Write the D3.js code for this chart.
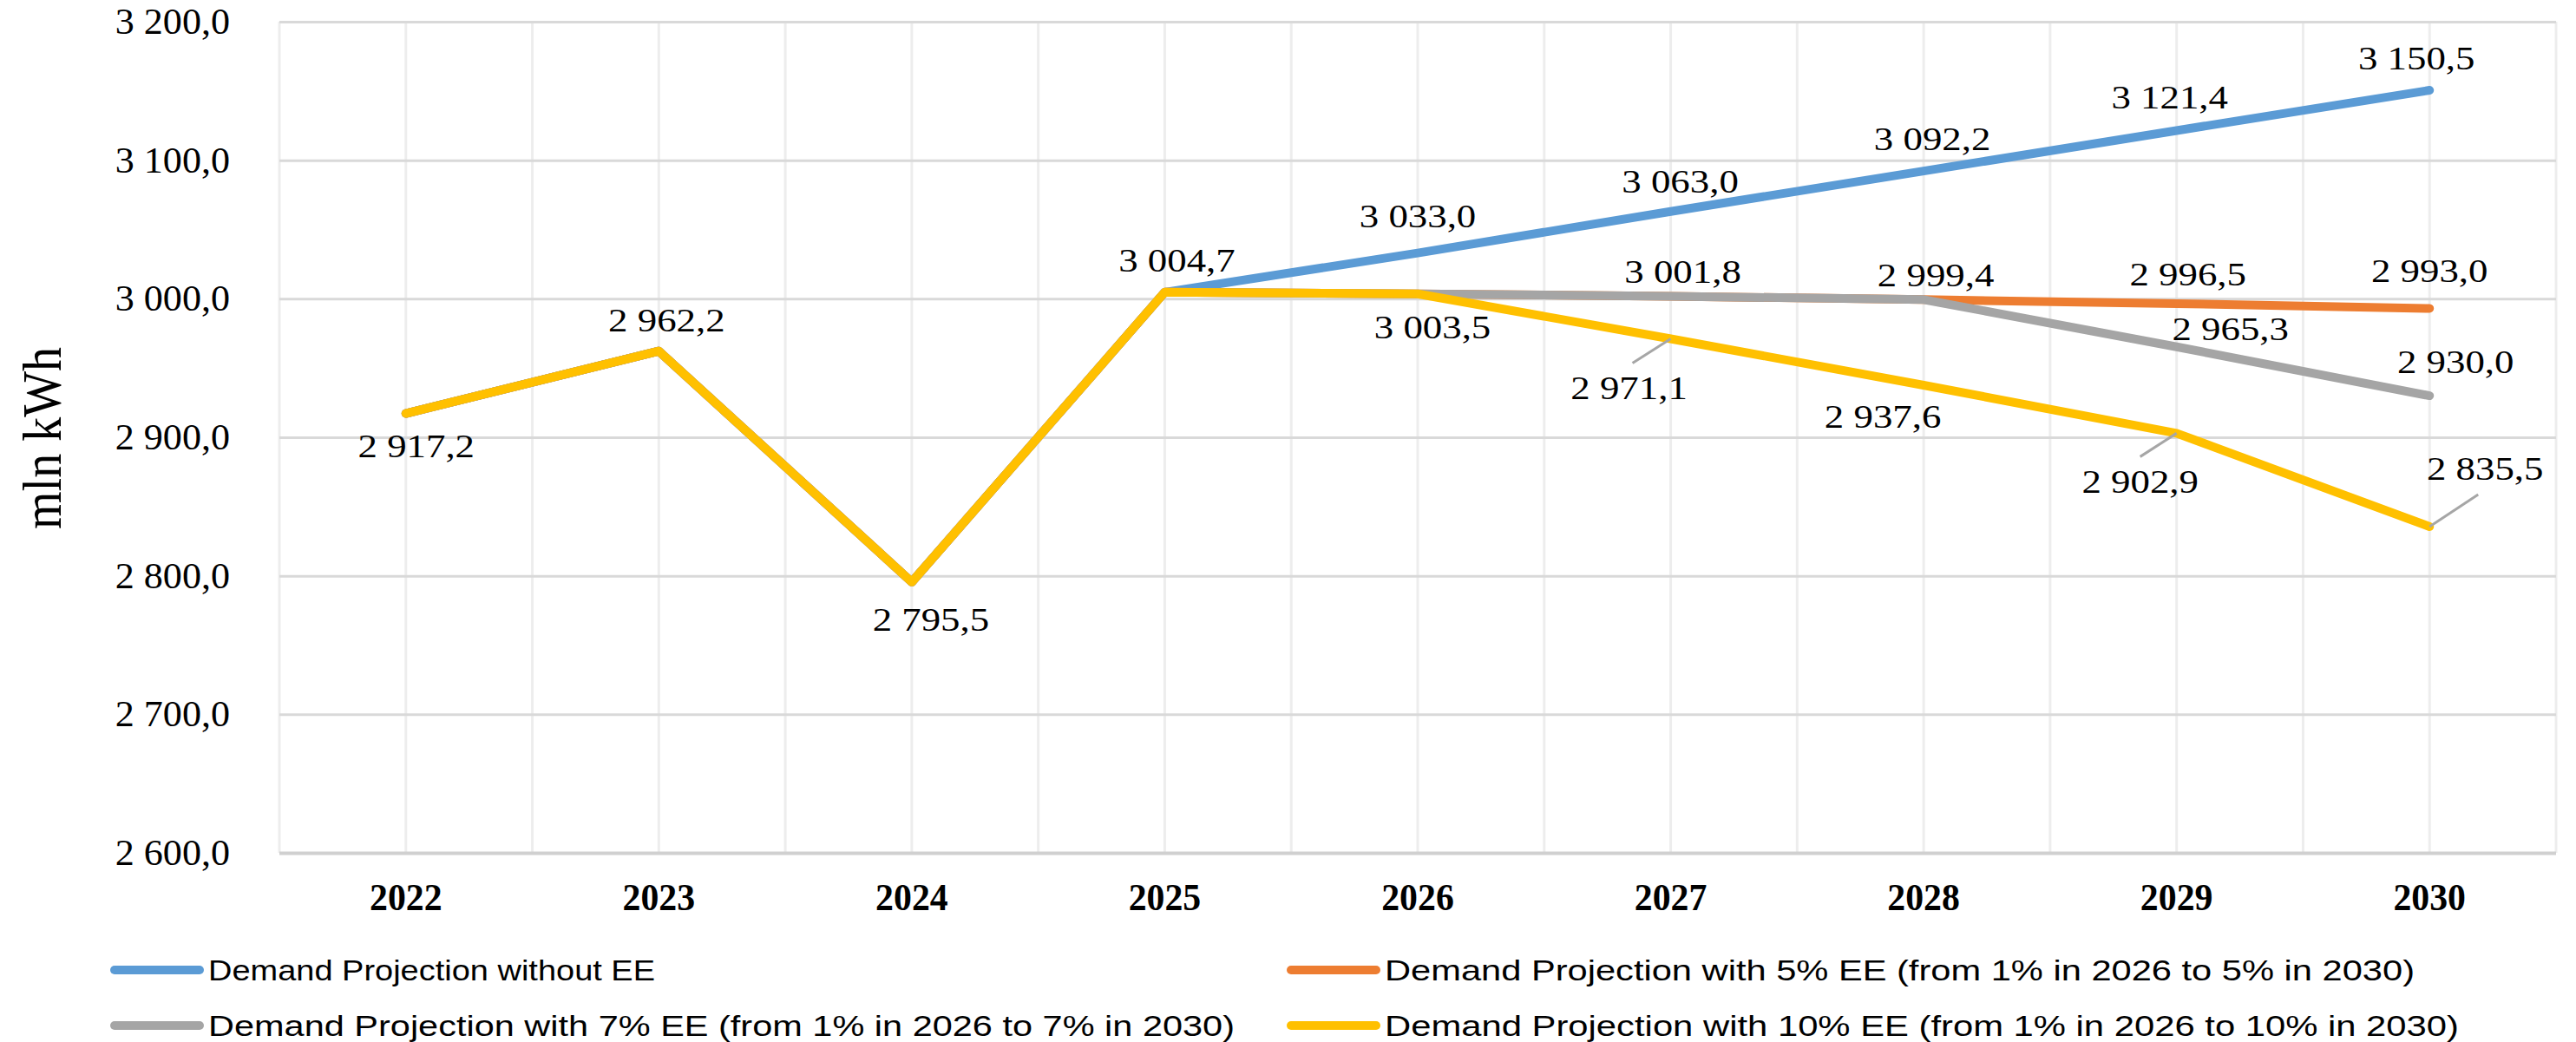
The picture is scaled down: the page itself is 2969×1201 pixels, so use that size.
<!DOCTYPE html>
<html>
<head>
<meta charset="utf-8">
<script src="https://cdn.jsdelivr.net/npm/d3@7"></script>
<style>
  html, body { margin: 0; padding: 0; background: #ffffff; }
  svg { display: block; }
</style>
</head>
<body>
<svg id="chart" width="2969" height="1201"></svg>
<script>
// ---------------- DATA ----------------
const categories = ["2022", "2023", "2024", "2025", "2026", "2027", "2028", "2029", "2030"];
const withoutEE = [2917.2, 2962.2, 2795.5, 3004.7, 3033.0, 3063.0, 3092.2, 3121.4, 3150.5];
const ee5  = [2917.2, 2962.2, 2795.5, 3004.7, 3003.5, 3001.8, 2999.4, 2996.5, 2993.0];
const ee7  = [2917.2, 2962.2, 2795.5, 3004.7, 3003.5, 3001.8, 2999.4, 2965.3, 2930.0];
const ee10 = [2917.2, 2962.2, 2795.5, 3004.7, 3003.5, 2971.1, 2937.6, 2902.9, 2835.5];
const seriesNames = [
  "Demand Projection without EE",
  "Demand Projection with 5% EE (from 1% in 2026 to 5% in 2030)",
  "Demand Projection with 7% EE (from 1% in 2026 to 7% in 2030)",
  "Demand Projection with 10% EE (from 1% in 2026 to 10% in 2030)"
];
const yTicks = [2600, 2700, 2800, 2900, 3000, 3100, 3200];
const yTitle = "mln kWh";

// ---------------- STYLE / LAYOUT ----------------
const colors = ["#5B9BD5", "#ED7D31", "#A5A5A5", "#FFC000"];
const seriesValues = [withoutEE, ee5, ee7, ee10];
const W = 2969, H = 1201;
const plot = { left: 322, right: 2946, top: 25, bottom: 983 };
const serif = "'Liberation Serif', 'Times New Roman', serif";
const sans = "'Liberation Sans', Arial, sans-serif";

// data-label placement (series index, point index, offsets, optional leader)
const labelLayout = [
  { s: 3, i: 0, dx: 12,  dy: 50 },
  { s: 3, i: 1, dx: 9,   dy: -23 },
  { s: 3, i: 2, dx: 22,  dy: 56 },
  { s: 3, i: 3, dx: 14,  dy: -24 },
  { s: 0, i: 4, dx: 0,   dy: -30 },
  { s: 0, i: 5, dx: 11,  dy: -22 },
  { s: 0, i: 6, dx: 10,  dy: -24 },
  { s: 0, i: 7, dx: -8,  dy: -25 },
  { s: 0, i: 8, dx: -15, dy: -24 },
  { s: 3, i: 4, dx: 17,  dy: 51 },
  { s: 1, i: 5, dx: 14,  dy: -15 },
  { s: 1, i: 6, dx: 14,  dy: -15 },
  { s: 1, i: 7, dx: 13,  dy: -21 },
  { s: 1, i: 8, dx: 0,   dy: -31 },
  { s: 2, i: 7, dx: 62,  dy: -8 },
  { s: 2, i: 8, dx: 30,  dy: -26 },
  { s: 3, i: 5, dx: -48, dy: 70, lx: 4, ly: -42 },
  { s: 3, i: 6, dx: -47, dy: 49 },
  { s: 3, i: 7, dx: -42, dy: 69, lx: 0, ly: -42 },
  { s: 3, i: 8, dx: 64,  dy: -54, lx: -8, ly: 17 }
];

// legend layout
const legendPos = [
  { col: 0, row: 0 }, { col: 1, row: 0 }, { col: 0, row: 1 }, { col: 1, row: 1 }
];
const legendTextWidth = [515, 1187, 1183, 1238];
const colX = [127, 1483];
const rowY = [1118, 1182];

// ---------------- CHART ----------------
const svg = d3.select("#chart");
svg.append("rect").attr("width", W).attr("height", H).attr("fill", "#fff");

const x = d3.scaleBand().domain(categories).range([plot.left, plot.right]).padding(0);
const cx = c => x(c) + x.bandwidth() / 2;
const y = d3.scaleLinear().domain([2600, 3200]).range([plot.bottom, plot.top]);

const locale = d3.formatLocale({ decimal: ",", thousands: " ", grouping: [3], currency: ["", ""] });
const fmt = locale.format(",.1f");

// vertical gridlines: band edges and band centers
const vLines = [];
categories.forEach(c => { vLines.push(x(c)); vLines.push(cx(c)); });
vLines.push(x(categories[categories.length - 1]) + x.bandwidth());
svg.append("g").selectAll("line").data(vLines).join("line")
  .attr("x1", d => d).attr("x2", d => d)
  .attr("y1", plot.top).attr("y2", plot.bottom)
  .attr("stroke", "#EDEDED").attr("stroke-width", 3);

// horizontal gridlines via axis
const yAxis = d3.axisLeft(y).tickValues(yTicks).tickSize(-(plot.right - plot.left)).tickPadding(0).tickFormat("");
const gy = svg.append("g").attr("transform", `translate(${plot.left},0)`).call(yAxis);
gy.select(".domain").remove();
gy.selectAll(".tick line").attr("stroke", d => d === 2600 ? "#D0D0D0" : "#D9D9D9").attr("stroke-width", d => d === 2600 ? 4 : 3);

// y tick labels
svg.append("g").selectAll("text").data(yTicks).join("text")
  .attr("transform", d => `translate(265,${y(d) + 14}) scale(1.05,1)`)
  .attr("text-anchor", "end")
  .attr("font-family", serif).attr("font-size", 42).attr("fill", "#000")
  .text(d => fmt(d));

// x labels
svg.append("g").selectAll("text").data(categories).join("text")
  .attr("transform", d => `translate(${cx(d)},1049) scale(0.95,1)`)
  .attr("text-anchor", "middle")
  .attr("font-family", serif).attr("font-size", 44).attr("font-weight", "bold").attr("fill", "#000")
  .text(d => d);

// y title
svg.append("text")
  .attr("transform", "translate(70,505) rotate(-90) scale(1,1.15)")
  .attr("text-anchor", "middle")
  .attr("font-family", serif).attr("font-size", 56).attr("fill", "#000")
  .text(yTitle);

// lines
const line = d3.line().x((d, i) => cx(categories[i])).y(d => y(d));
seriesValues.forEach((vals, k) => {
  svg.append("path").datum(vals)
    .attr("d", line)
    .attr("fill", "none")
    .attr("stroke", colors[k])
    .attr("stroke-width", 10)
    .attr("stroke-linejoin", "round")
    .attr("stroke-linecap", "round");
});

// leader lines and data labels
const gl = svg.append("g");
labelLayout.forEach(L => {
  const v = seriesValues[L.s][L.i];
  const px = cx(categories[L.i]), py = y(v);
  const tx = px + L.dx, ty = py + L.dy;
  if (L.lx !== undefined) {
    gl.append("line")
      .attr("x1", px).attr("y1", py)
      .attr("x2", tx + L.lx).attr("y2", ty + L.ly)
      .attr("stroke", "#A6A6A6").attr("stroke-width", 3);
  }
  gl.append("text")
    .attr("transform", `translate(${tx},${ty}) scale(1.15,1)`)
    .attr("text-anchor", "middle")
    .attr("font-family", serif).attr("font-size", 39).attr("fill", "#000")
    .text(fmt(v));
});

// legend
const lg = svg.append("g");
seriesNames.forEach((name, k) => {
  const p = legendPos[k];
  const x0 = colX[p.col], yy = rowY[p.row];
  lg.append("line")
    .attr("x1", x0 + 5).attr("x2", x0 + 103)
    .attr("y1", yy).attr("y2", yy)
    .attr("stroke", colors[k]).attr("stroke-width", 10).attr("stroke-linecap", "round");
  lg.append("text")
    .attr("x", x0 + 113).attr("y", yy + 12)
    .attr("textLength", legendTextWidth[k])
    .attr("lengthAdjust", "spacingAndGlyphs")
    .attr("font-family", sans).attr("font-size", 33).attr("fill", "#000")
    .text(name);
});
</script>
</body>
</html>
